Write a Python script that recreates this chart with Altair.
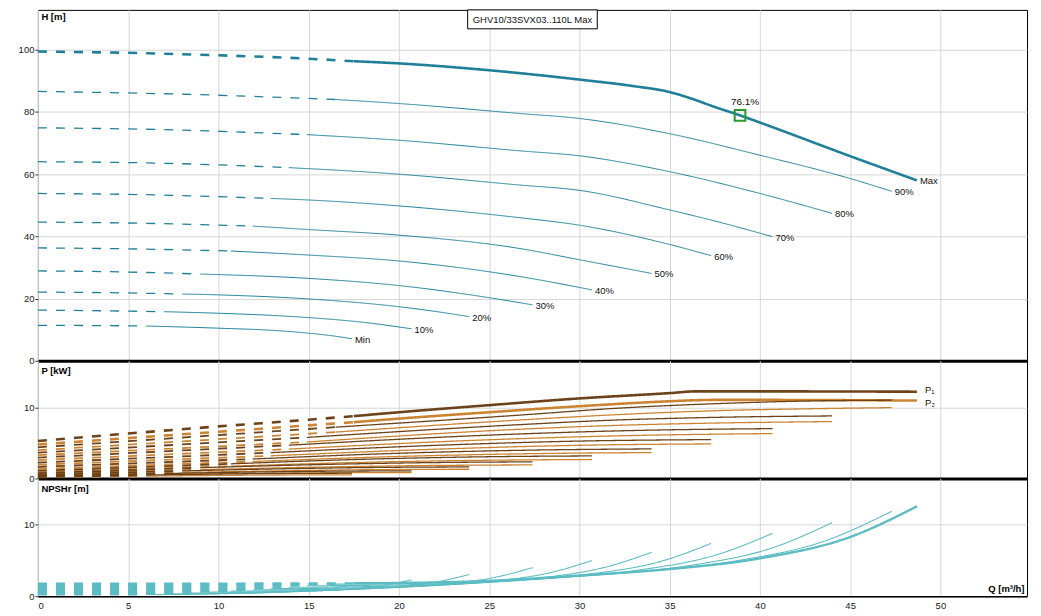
import altair as alt
import pandas as pd

# ---------------- data ----------------
CURVES = ["Min", "10%", "20%", "30%", "40%", "50%", "60%", "70%", "80%", "90%", "Max"]
DASH_END = [6.0, 7.0, 8.0, 9.0, 10.7, 11.9, 12.9, 13.9, 14.9, 16.5, 17.5]

H_Q = {
    "Min": [0, 3, 6.0, 10, 13, 15, 16.5, 17.4],
    "10%": [0, 3.5, 7.0, 10, 13, 15, 18, 20.7],
    "20%": [0, 4, 8.0, 10, 15, 20, 22, 23.9],
    "30%": [0, 4.5, 9.0, 15, 20, 25, 27.4],
    "40%": [0, 5, 10.7, 15, 20, 26.7, 30.7],
    "50%": [0, 6, 11.9, 15, 20, 26.7, 30, 34.0],
    "60%": [0, 6, 12.9, 15, 20, 26.7, 30, 35, 37.3],
    "70%": [0, 7, 13.9, 20, 26.7, 30, 35, 38, 40.7],
    "80%": [0, 7, 14.9, 20, 26.7, 30, 35, 40, 44.0],
    "90%": [0, 8, 16.5, 20, 26.7, 30, 35, 40, 45, 47.3],
    "Max": [0, 5, 10, 15, 17.5, 20, 25, 30, 33, 35, 36.2, 37.5, 38.9, 40, 45, 48.7],
}
H_V = {
    "Min": [11.4, 11.35, 11.2, 10.5, 9.8, 8.9, 7.9, 7.1],
    "10%": [16.3, 16.1, 15.8, 15.3, 14.6, 13.9, 12.4, 10.3],
    "20%": [22.1, 21.9, 21.5, 21.2, 19.9, 17.4, 15.9, 14.2],
    "30%": [28.9, 28.6, 27.9, 26.5, 24.2, 20.3, 18.0],
    "40%": [36.3, 36.0, 35.3, 34.0, 32.1, 27.1, 22.8],
    "50%": [44.6, 44.2, 43.3, 42.2, 40.4, 36.1, 32.5, 28.1],
    "60%": [53.8, 53.4, 52.2, 51.7, 49.8, 46.0, 43.6, 37.4, 33.8],
    "70%": [64.0, 63.5, 62.1, 60.0, 56.5, 54.8, 48.5, 44.2, 39.9],
    "80%": [74.9, 74.3, 72.7, 70.9, 67.5, 65.9, 60.8, 53.8, 47.4],
    "90%": [86.6, 85.7, 84.0, 82.7, 79.5, 77.9, 73.0, 66.1, 58.6, 54.5],
    "Max": [99.4, 99.0, 98.2, 97.1, 96.3, 95.6, 93.4, 90.4, 88.3, 86.4, 84.3, 81.6, 78.9, 76.6, 65.8, 58.0],
}

P_Q = {
    "Min": [0, 6.0, 10.6, 13.9, 17.4],
    "10%": [0, 7.0, 12.6, 16.6, 20.7],
    "20%": [0, 8.0, 14.6, 19.1, 23.9],
    "30%": [0, 9.0, 16.7, 21.9, 27.4],
    "40%": [0, 10.7, 18.7, 24.6, 30.7],
    "50%": [0, 11.9, 20.7, 27.2, 34.0],
    "60%": [0, 12.9, 22.8, 29.8, 37.3],
    "70%": [0, 13.9, 24.8, 32.6, 40.7],
    "80%": [0, 14.9, 26.7, 31.5, 37, 44.0],
    "90%": [0, 16.5, 27, 32, 38, 43, 47.3],
    "Max": [0, 5, 10, 15, 17.5, 20, 25, 30, 35, 36.5, 38, 48.7],
}
P1_V = {
    "Min": [0.20, 0.49, 0.65, 0.72, 0.75],
    "10%": [0.33, 0.70, 0.94, 1.04, 1.08],
    "20%": [0.50, 1.07, 1.42, 1.57, 1.64],
    "30%": [0.75, 1.53, 2.03, 2.25, 2.35],
    "40%": [1.10, 2.07, 2.76, 3.06, 3.19],
    "50%": [1.65, 2.75, 3.62, 4.0, 4.18],
    "60%": [2.25, 3.65, 4.75, 5.27, 5.49],
    "70%": [2.95, 4.7, 6.1, 6.75, 7.04],
    "80%": [3.65, 5.8, 7.6, 8.2, 8.6, 8.83],
    "90%": [4.4, 7.25, 9.0, 9.9, 10.6, 10.95, 11.05],
    "Max": [5.3, 6.35, 7.35, 8.3, 8.8, 9.35, 10.35, 11.3, 12.05, 12.3, 12.3, 12.25],
}
P2_V = {
    "Min": [0.14, 0.34, 0.45, 0.50, 0.52],
    "10%": [0.25, 0.55, 0.74, 0.82, 0.85],
    "20%": [0.40, 0.85, 1.13, 1.26, 1.31],
    "30%": [0.60, 1.25, 1.66, 1.84, 1.92],
    "40%": [0.90, 1.74, 2.32, 2.57, 2.68],
    "50%": [1.35, 2.4, 3.16, 3.5, 3.66],
    "60%": [1.95, 3.2, 4.2, 4.68, 4.88],
    "70%": [2.6, 4.15, 5.45, 6.05, 6.34],
    "80%": [3.3, 5.15, 6.95, 7.45, 7.8, 8.03],
    "90%": [4.0, 6.55, 8.3, 9.0, 9.6, 9.85, 10.0],
    "Max": [4.8, 5.7, 6.6, 7.5, 7.95, 8.45, 9.35, 10.2, 10.9, 11.05, 11.1, 11.0],
}

N_Q = {
    "Min": [0, 3.6, 6.0, 7.1, 8.9, 10.7, 12.5, 14.3, 16.1, 17.4],
    "10%": [0, 4.3, 7.0, 8.5, 10.6, 12.8, 14.9, 17.0, 19.1, 20.7],
    "20%": [0, 4.9, 8.0, 9.8, 12.3, 14.7, 17.2, 19.6, 22.1, 23.9],
    "30%": [0, 5.6, 9.0, 11.3, 14.1, 16.9, 19.7, 22.5, 25.3, 27.4],
    "40%": [0, 6.3, 10.7, 12.6, 15.8, 18.9, 22.1, 25.2, 28.4, 30.7],
    "50%": [0, 7.0, 11.9, 14.0, 17.5, 20.9, 24.4, 27.9, 31.4, 34.0],
    "60%": [0, 7.7, 12.9, 15.3, 19.2, 23.0, 26.8, 30.6, 34.5, 37.3],
    "70%": [0, 8.4, 13.9, 16.7, 20.9, 25.1, 29.3, 33.4, 37.6, 40.7],
    "80%": [0, 9.0, 14.9, 18.1, 22.6, 27.1, 31.6, 36.2, 40.7, 44.0],
    "90%": [0, 9.7, 16.5, 19.4, 24.3, 29.1, 34.0, 38.8, 43.7, 47.3],
    "Max": [0, 10, 17.5, 20, 25, 30, 35, 40, 45, 48.7],
}
N_V = {
    "Min": [0.22, 0.22, 0.23, 0.23, 0.27, 0.37, 0.48, 0.67, 1.05, 1.6],
    "10%": [0.32, 0.32, 0.32, 0.33, 0.39, 0.52, 0.69, 0.96, 1.5, 2.28],
    "20%": [0.42, 0.42, 0.43, 0.45, 0.52, 0.70, 0.92, 1.28, 2.0, 3.04],
    "30%": [0.55, 0.56, 0.57, 0.59, 0.68, 0.92, 1.2, 1.68, 2.63, 4.0],
    "40%": [0.69, 0.70, 0.71, 0.73, 0.85, 1.15, 1.51, 2.1, 3.3, 5.0],
    "50%": [0.85, 0.86, 0.87, 0.9, 1.05, 1.41, 1.85, 2.58, 4.04, 6.14],
    "60%": [1.03, 1.03, 1.05, 1.09, 1.26, 1.7, 2.23, 3.11, 4.87, 7.4],
    "70%": [1.22, 1.23, 1.25, 1.29, 1.5, 2.03, 2.66, 3.7, 5.8, 8.8],
    "80%": [1.43, 1.44, 1.46, 1.51, 1.76, 2.37, 3.1, 4.33, 6.78, 10.3],
    "90%": [1.65, 1.66, 1.69, 1.74, 2.03, 2.73, 3.58, 5.0, 7.83, 11.9],
    "Max": [1.75, 1.76, 1.8, 1.85, 2.15, 2.9, 3.8, 5.3, 8.3, 12.6],
}

DUTY_Q = [38.9]
DUTY_H = [78.9]
DUTY_LABEL = ["76.1%"]
TITLE = "GHV10/33SVX03..110L Max"
X_TICKS = [0, 5, 10, 15, 20, 25, 30, 35, 40, 45, 50]

# ---------------- layout / style ----------------
X_MAX = 54.8
W = 992
HT, HM, HB = 352, 118, 118
FONT = "Liberation Sans"
FS = 9.5
GRID = "#d6d6d6"
H_COLOR = "#1f7f99"
P1_COLOR = "#6b4219"
P2_COLOR = "#cc8433"
N_COLOR = "#5bbcc3"
DASH = [9, 9.1]


def segments(qs_map, vs_map, kind=""):
    rows = []
    for name, qd in zip(CURVES, DASH_END):
        for q, v in zip(qs_map[name], vs_map[name]):
            if q <= qd + 1e-9:
                rows.append(dict(curve=name, kind=kind, part="dash", key=f"{name}|{kind}|dash", Q=q, V=v))
            if q >= qd - 1e-9:
                rows.append(dict(curve=name, kind=kind, part="solid", key=f"{name}|{kind}|solid", Q=q, V=v))
    return pd.DataFrame(rows)


def x_enc(bottom):
    if bottom:
        axis = alt.Axis(values=X_TICKS, grid=True, gridColor=GRID, ticks=False, labelPadding=4,
                        labelFontSize=FS, labelColor="#222", domainColor="black", domainWidth=1.5,
                        title="Q [m³/h]", titleX=W - 3, titleY=-8, titleAlign="right",
                        titleBaseline="middle", titleAngle=0, titleFontWeight="bold",
                        titleFontSize=FS, titleColor="black")
        return alt.X("Q:Q", scale=alt.Scale(domain=[0, X_MAX], nice=False, zero=False), axis=axis)
    axis = alt.Axis(values=X_TICKS, grid=True, gridColor=GRID, ticks=False, labels=False,
                    domainColor="black", domainWidth=3, title=None)
    return alt.X("Q:Q", scale=alt.Scale(domain=[0, X_MAX], nice=False, zero=False), axis=axis)


def y_enc(title, ymax, ticks, title_y):
    axis = alt.Axis(values=ticks, grid=True, gridColor=GRID, domain=False, tickSize=3,
                    tickColor="#333", labelPadding=1, labelFontSize=FS, labelColor="#222",
                    title=title, titleAngle=0, titleX=3, titleY=title_y, titleAlign="left",
                    titleBaseline="middle", titleFontWeight="bold", titleFontSize=FS,
                    titleColor="black")
    return alt.Y("V:Q", scale=alt.Scale(domain=[0, ymax], nice=False), axis=axis)


def width_enc(w_max, w_dash, w_solid):
    return (alt.when(alt.datum.curve == "Max").then(alt.value(w_max))
            .when(alt.datum.part == "dash").then(alt.value(w_dash))
            .otherwise(alt.value(w_solid)))


dash_enc = alt.StrokeDash("part:N", scale=alt.Scale(domain=["dash", "solid"], range=[DASH, [1, 0]]),
                          legend=None)

# ---------------- H panel ----------------
h_df = segments(H_Q, H_V)
h_lines = alt.Chart(h_df).mark_line(color=H_COLOR, interpolate="monotone").encode(
    x=x_enc(False), y=y_enc("H [m]", 112.8, [0, 20, 40, 60, 80, 100], 7),
    detail="key:N", strokeDash=dash_enc, strokeWidth=width_enc(2.6, 1.3, 1.0),
)
h_end = pd.DataFrame({"curve": CURVES, "Q": [H_Q[c][-1] for c in CURVES], "V": [H_V[c][-1] for c in CURVES]})
h_labels = alt.Chart(h_end).mark_text(align="left", baseline="middle", dx=3, dy=1, fontSize=FS,
                                      color="#111").encode(x="Q:Q", y="V:Q", text="curve:N")
duty = pd.DataFrame({"Q": DUTY_Q, "V": DUTY_H, "label": DUTY_LABEL})
duty_pt = alt.Chart(duty).mark_point(shape="square", size=115, filled=False, color="#2a9a2a",
                                     strokeWidth=2, opacity=1).encode(x="Q:Q", y="V:Q")
duty_txt = alt.Chart(duty).mark_text(dy=-13, dx=5, fontSize=FS + 0.5, color="#111").encode(
    x="Q:Q", y="V:Q", text="label:N")
tdf = pd.DataFrame({"t": [TITLE]})
title_box = alt.Chart(tdf).mark_rect(fill="white", stroke="black", strokeWidth=1).encode(
    x=alt.value(W / 2 - 65), x2=alt.value(W / 2 + 65), y=alt.value(0), y2=alt.value(19))
title_txt = alt.Chart(tdf).mark_text(fontSize=FS, color="#111", baseline="middle").encode(
    x=alt.value(W / 2), y=alt.value(10), text="t:N")
h_panel = alt.layer(h_lines, h_labels, duty_pt, duty_txt, title_box, title_txt).properties(
    width=W, height=HT)

# ---------------- P panel ----------------
p_df = pd.concat([segments(P_Q, P2_V, "P2"), segments(P_Q, P1_V, "P1")], ignore_index=True)
p_lines = alt.Chart(p_df).mark_line(interpolate="monotone").encode(
    x=x_enc(False), y=y_enc("P [kW]", 16.6, [0, 10], 10),
    color=alt.Color("kind:N", scale=alt.Scale(domain=["P1", "P2"], range=[P1_COLOR, P2_COLOR]),
                    legend=None),
    detail="key:N", strokeDash=dash_enc, strokeWidth=width_enc(2.6, 1.8, 1.3),
)
p1_end = pd.DataFrame({"Q": [P_Q["Max"][-1]], "V": [P1_V["Max"][-1]], "label": ["P₁"]})
p2_end = pd.DataFrame({"Q": [P_Q["Max"][-1]], "V": [P2_V["Max"][-1]], "label": ["P₂"]})
p1_label = alt.Chart(p1_end).mark_text(align="left", baseline="middle", dx=8, dy=-2, fontSize=FS,
                                       color="#111").encode(x="Q:Q", y="V:Q", text="label:N")
p2_label = alt.Chart(p2_end).mark_text(align="left", baseline="middle", dx=8, dy=2, fontSize=FS,
                                       color="#111").encode(x="Q:Q", y="V:Q", text="label:N")
p_panel = alt.layer(p_lines, p1_label, p2_label).properties(width=W, height=HM)

# ---------------- NPSH panel ----------------
n_df = segments(N_Q, N_V)
n_lines = alt.Chart(n_df).mark_line(color=N_COLOR, interpolate="monotone").encode(
    x=x_enc(True), y=y_enc("NPSHr [m]", 16.5, [0, 10], 10),
    detail="key:N", strokeDash=dash_enc, strokeWidth=width_enc(2.4, 2.0, 1.1),
)
n_panel = alt.layer(n_lines).properties(width=W, height=HB)

chart = alt.vconcat(h_panel, p_panel, n_panel, spacing=0, bounds="flush").properties(
    padding={"left": 9, "top": 0, "right": 5, "bottom": 4}
).configure(font=FONT).configure_view(stroke="black", strokeWidth=1)

chart.save("out.html", embed_options={"renderer": "svg", "actions": False})
